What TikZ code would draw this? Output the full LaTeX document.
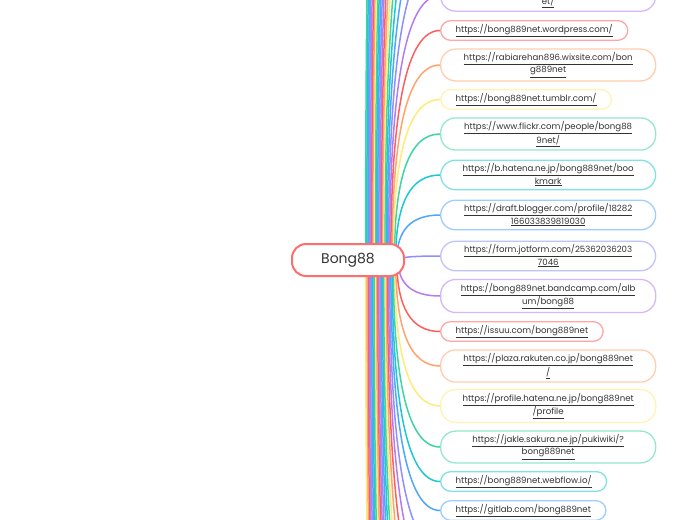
\documentclass[tikz,border=0pt]{standalone}
\usepackage{fontspec}
\setmainfont{Poppins}
\usetikzlibrary{calc}
\definecolor{mm0}{HTML}{FF5E5E}
\definecolor{mm1}{HTML}{FFA46E}
\definecolor{mm2}{HTML}{FFEA7A}
\definecolor{mm3}{HTML}{3DD6A0}
\definecolor{mm4}{HTML}{1CC8D2}
\definecolor{mm5}{HTML}{4FA6FF}
\definecolor{mm6}{HTML}{8F8FFF}
\definecolor{mm7}{HTML}{B57CF2}
\definecolor{txt}{HTML}{333333}
\newcommand\lnk[1]{\underline{#1}}
% connector from under the root to a child
\newcommand\branch[3]{%
  \coordinate (s) at ({398-1.2*#2},260);
  \draw[#1] (s) .. controls ($(s)!2/3!(s|-#3)$) and ($(#3)!2/3!(s|-#3)$) .. (#3);}

\begin{document}
\begin{tikzpicture}[x=1pt,y=-1pt,
  url/.style={draw=#1!55!white, fill=white, line width=1.3pt, rounded corners=10pt,
    inner xsep=15pt, inner ysep=3.6pt, anchor=west, align=center, text=txt,
    font=\fontsize{8.6}{12.2}\selectfont},
  url2/.style={url=#1, minimum width=215pt, rounded corners=15pt}]
  \path[use as bounding box, fill=white] (0,0) rectangle (697,520);
  \clip (0,0) rectangle (697,520);

  \node[url2=mm7] (n1) at (440,-4.5) {\strut\\\lnk{et/}};
  \node[url=mm0] (n2) at (440,30.5) {\lnk{https://bong889net.wordpress.com/}};
  \node[url2=mm1] (n3) at (440,65) {\lnk{https://rabiarehan896.wixsite.com/bon}\\\lnk{g889net}};
  \node[url=mm2] (n4) at (440,99.5) {\lnk{https://bong889net.tumblr.com/}};
  \node[url2=mm3] (n5) at (440,134) {\lnk{https://www.flickr.com/people/bong88}\\\lnk{9net/}};
  \node[url2=mm4] (n6) at (440,175) {\lnk{https://b.hatena.ne.jp/bong889net/boo}\\\lnk{kmark}};
  \node[url2=mm5] (n7) at (440,215) {\lnk{https://draft.blogger.com/profile/18282}\\\lnk{166033839819030}};
  \node[url2=mm6] (n8) at (440,256) {\lnk{https://form.jotform.com/25362036203}\\\lnk{7046}};
  \node[url2=mm7] (n9) at (440,296) {\lnk{https://bong889net.bandcamp.com/alb}\\\lnk{um/bong88}};
  \node[url=mm0] (n10) at (440,331.5) {\lnk{https://issuu.com/bong889net}};
  \node[url2=mm1] (n11) at (440,366) {\lnk{https://plaza.rakuten.co.jp/bong889net}\\\lnk{/}};
  \node[url2=mm2] (n12) at (440,406) {\lnk{https://profile.hatena.ne.jp/bong889net}\\\lnk{/profile}};
  \node[url2=mm3] (n13) at (440,447) {\lnk{https://jakle.sakura.ne.jp/pukiwiki/?}\\\lnk{bong889net}};
  \node[url=mm4] (n14) at (440,481.5) {\lnk{https://bong889net.webflow.io/}};
  \node[url=mm5] (n15) at (440,510.5) {\lnk{https://gitlab.com/bong889net}};

  \begin{scope}[line width=1.5pt]
  % branches leaving the page
  \foreach \k in {8,...,27}{
    \pgfmathtruncatemacro\c{mod(86-\k,8)}
    \coordinate (up\k) at (440,{-4.5-40*(\k-7)});
    \branch{mm\c}{\k}{up\k}
  }
  \foreach \k in {7,...,27}{
    \pgfmathtruncatemacro\c{mod(7+\k,8)}
    \coordinate (dn\k) at (440,{510.5+38*(\k-6)});
    \branch{mm\c}{\k}{dn\k}
  }
  \branch{mm6}{0}{n8.west}
  \branch{mm5}{1}{n7.west}
  \branch{mm4}{2}{n6.west}
  \branch{mm3}{3}{n5.west}
  \branch{mm2}{4}{n4.west}
  \branch{mm1}{5}{n3.west}
  \branch{mm0}{6}{n2.west}
  \branch{mm7}{7}{n1.west}
  \branch{mm7}{0}{n9.west}
  \branch{mm0}{1}{n10.west}
  \branch{mm1}{2}{n11.west}
  \branch{mm2}{3}{n12.west}
  \branch{mm3}{4}{n13.west}
  \branch{mm4}{5}{n14.west}
  \branch{mm5}{6}{n15.west}
  \end{scope}

  \node[draw=mm0!90!white, line width=2pt, fill=white, rounded corners=14pt,
    minimum width=112pt, minimum height=32pt, text=txt,
    font=\fontsize{14}{16}\selectfont] (bong) at (348,260) {Bong88};
\end{tikzpicture}
\end{document}
